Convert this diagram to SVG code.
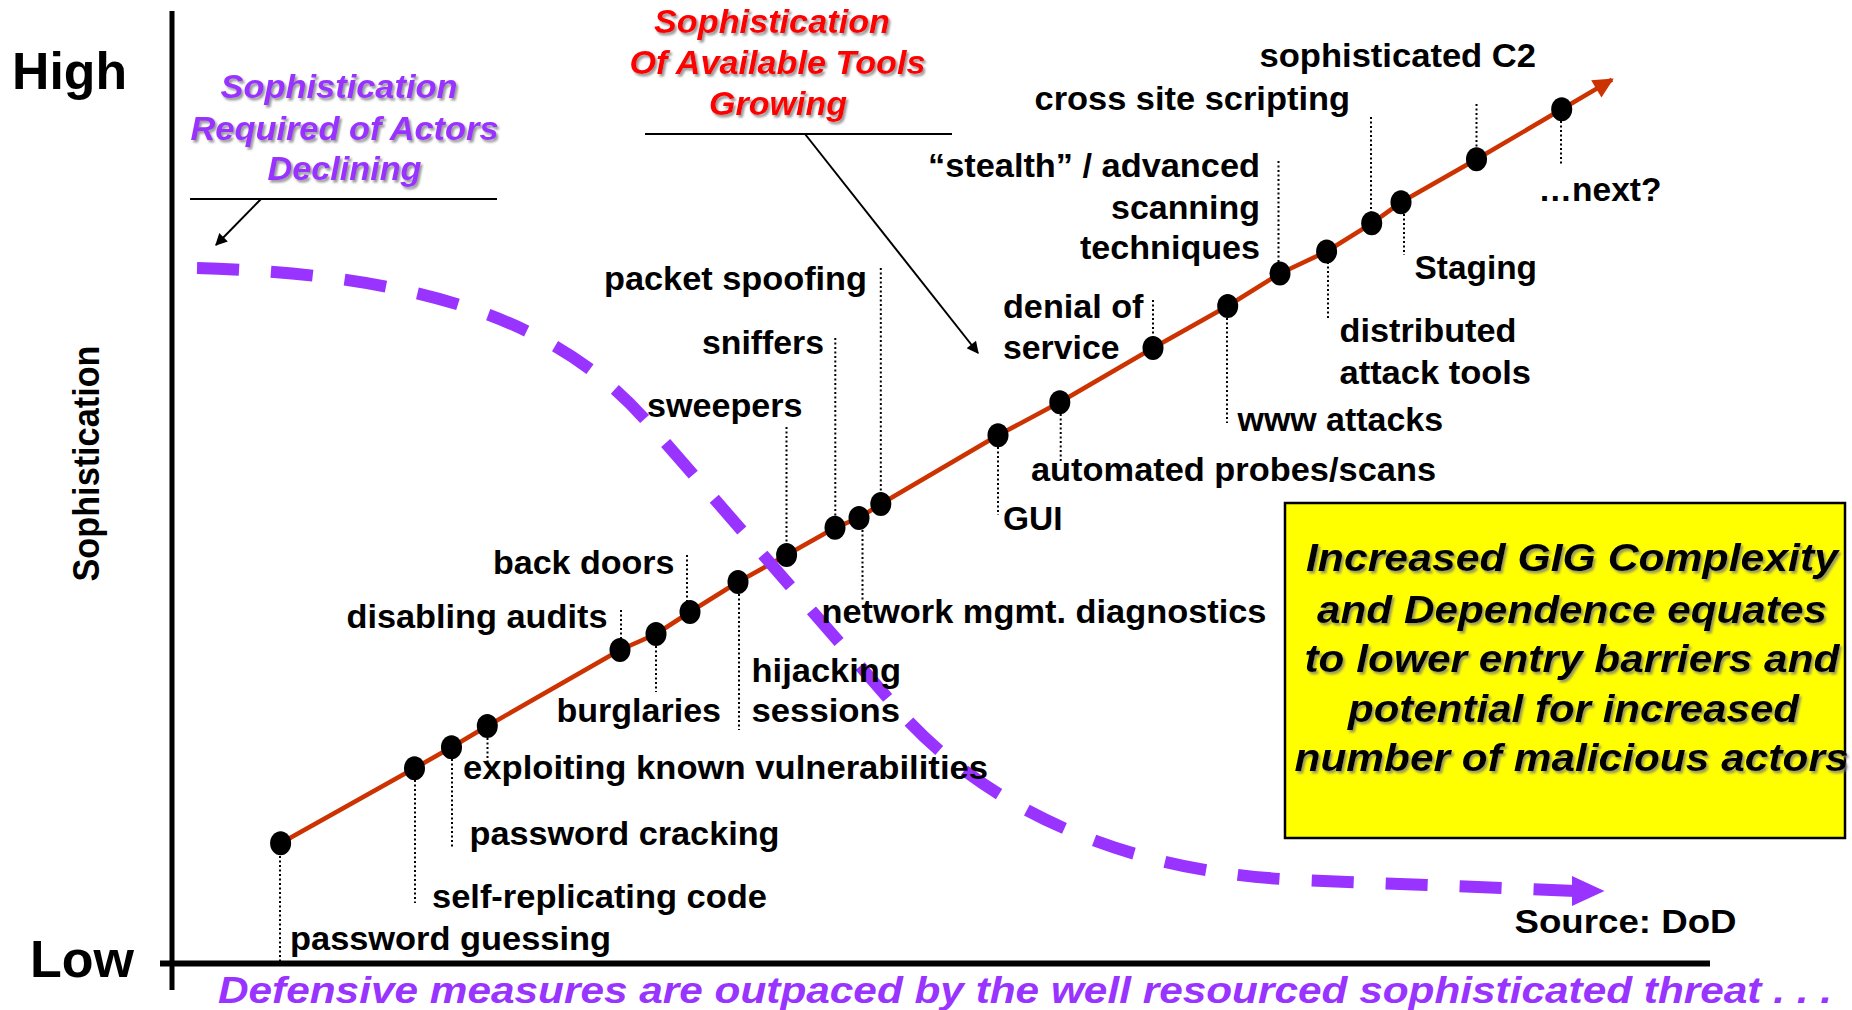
<svg xmlns="http://www.w3.org/2000/svg" width="1852" height="1010" viewBox="0 0 1852 1010">
  <defs>
    <style>
      text { font-family: "Liberation Sans", Arial, Helvetica, sans-serif; font-weight: bold; }
      .lbl { font-size: 34px; fill: #000; }
      .axis-lbl { font-size: 52px; fill: #000; }
      .hdr { font-size: 33px; font-style: italic; filter: url(#shade); }
      .purple { fill: #9933FF; }
      .red { fill: #FF0000; }
      .note { font-size: 39px; font-style: italic; fill: #000; filter: url(#shade); }
      .lead { stroke: #000; stroke-width: 2; stroke-dasharray: 2 2.5; fill: none; }
      .dot { fill: #000; }
      .axis { stroke: #000; fill: none; }
      .pointer { stroke: #000; stroke-width: 2; fill: none; }
      .trend { stroke: #CC3300; stroke-width: 4.5; fill: none; stroke-linejoin: round; }
      .decline { stroke: #9933FF; stroke-width: 12; fill: none; stroke-dasharray: 42 32; }
    </style>
    <filter id="shade" x="-5%" y="-20%" width="110%" height="150%">
      <feDropShadow dx="2" dy="2.5" stdDeviation="1.2" flood-color="#777" flood-opacity="0.75"/>
    </filter>
    <marker id="trendHead" viewBox="0 0 10 10" refX="9" refY="5" markerWidth="5" markerHeight="4.5" markerUnits="strokeWidth" orient="auto">
      <path d="M0,0 L10,5 L0,10 Z" fill="#CC3300"/>
    </marker>
    <marker id="ptrHead" viewBox="0 0 10 10" refX="9" refY="5" markerWidth="8" markerHeight="6" markerUnits="strokeWidth" orient="auto">
      <path d="M0,0 L10,5 L0,10 Z" fill="#000"/>
    </marker>
  </defs>

  <rect width="1852" height="1010" fill="#fff"/>

  <!-- axes -->
  <g id="axes">
    <line class="axis" x1="172" y1="11" x2="172" y2="990" stroke-width="5"/>
    <line class="axis" x1="160" y1="963.5" x2="1710" y2="963.5" stroke-width="6"/>
    <text class="axis-lbl" x="12" y="89" textLength="115" lengthAdjust="spacingAndGlyphs">High</text>
    <text class="axis-lbl" x="30" y="977" textLength="104" lengthAdjust="spacingAndGlyphs">Low</text>
    <text x="0" y="0" font-size="36" transform="translate(98.5,463.5) rotate(-90)" text-anchor="middle" textLength="236" lengthAdjust="spacingAndGlyphs">Sophistication</text>
  </g>

  <!-- connectors: trend line, declining curve, header pointers -->
  <g id="connectors">
    <polyline class="trend" marker-end="url(#trendHead)" points="280.6,843.3 414.5,768.3 451.5,747.3 487.3,726 620,650 656,634 690,612 738,582 786.6,555 835,527.7 859,518 880.8,504 998,435.3 1059.8,402.3 1153,348 1227.7,306 1280,273.5 1326.6,251.5 1371.7,223.3 1401,202.3 1476.5,159.3 1561.7,109.3 1612,79.6"/>
    <path class="decline" d="M197,268 C470,275 580,345 650,425 L900,712 C940,757 1060,870 1300,880 L1576,891"/>
    <polygon points="1572,876 1604.5,891 1572,906" fill="#9933FF"/>
    <line class="pointer" x1="190" y1="199" x2="497" y2="199"/>
    <line class="pointer" x1="261" y1="199" x2="216" y2="245" marker-end="url(#ptrHead)"/>
    <line class="pointer" x1="645" y1="134" x2="952" y2="134"/>
    <line class="pointer" x1="805" y1="134" x2="978" y2="353" marker-end="url(#ptrHead)"/>
  </g>

  <!-- headers -->
  <g id="header-actors">
    <text class="hdr purple" x="339" y="98" text-anchor="middle" textLength="237" lengthAdjust="spacingAndGlyphs">Sophistication</text>
    <text class="hdr purple" x="344.5" y="140" text-anchor="middle" textLength="308" lengthAdjust="spacingAndGlyphs">Required of Actors</text>
    <text class="hdr purple" x="344.5" y="180" text-anchor="middle" textLength="154" lengthAdjust="spacingAndGlyphs">Declining</text>
  </g>
  <g id="header-tools">
    <text class="hdr red" x="772" y="33" text-anchor="middle" textLength="236" lengthAdjust="spacingAndGlyphs">Sophistication</text>
    <text class="hdr red" x="777.5" y="74" text-anchor="middle" textLength="296" lengthAdjust="spacingAndGlyphs">Of Available Tools</text>
    <text class="hdr red" x="778" y="115" text-anchor="middle" textLength="138" lengthAdjust="spacingAndGlyphs">Growing</text>
  </g>

  <!-- events along the trend line -->
  <g id="ev-password-guessing">
    <line class="lead" x1="280" y1="856" x2="280" y2="961"/>
    <ellipse class="dot" cx="280.6" cy="843.3" rx="10.5" ry="12"/>
    <text class="lbl" x="290" y="950" textLength="321" lengthAdjust="spacingAndGlyphs">password guessing</text>
  </g>
  <g id="ev-self-replicating-code">
    <line class="lead" x1="415" y1="780" x2="415" y2="903"/>
    <ellipse class="dot" cx="414.5" cy="768.3" rx="10.5" ry="12"/>
    <text class="lbl" x="432" y="907.5" textLength="335" lengthAdjust="spacingAndGlyphs">self-replicating code</text>
  </g>
  <g id="ev-password-cracking">
    <line class="lead" x1="452" y1="759" x2="452" y2="847"/>
    <ellipse class="dot" cx="451.5" cy="747.3" rx="10.5" ry="12"/>
    <text class="lbl" x="469.5" y="845" textLength="310" lengthAdjust="spacingAndGlyphs">password cracking</text>
  </g>
  <g id="ev-exploiting">
    <line class="lead" x1="487.5" y1="738" x2="487.5" y2="762"/>
    <ellipse class="dot" cx="487.3" cy="726" rx="10.5" ry="12"/>
    <text class="lbl" x="463" y="779" textLength="525" lengthAdjust="spacingAndGlyphs">exploiting known vulnerabilities</text>
  </g>
  <g id="ev-disabling-audits">
    <line class="lead" x1="621" y1="610" x2="621" y2="640"/>
    <ellipse class="dot" cx="620" cy="650" rx="10.5" ry="12"/>
    <text class="lbl" x="346.5" y="628" textLength="261" lengthAdjust="spacingAndGlyphs">disabling audits</text>
  </g>
  <g id="ev-burglaries">
    <line class="lead" x1="656" y1="646" x2="656" y2="692"/>
    <ellipse class="dot" cx="656" cy="634" rx="10.5" ry="12"/>
    <text class="lbl" x="556.5" y="721.5" textLength="164.5" lengthAdjust="spacingAndGlyphs">burglaries</text>
  </g>
  <g id="ev-back-doors">
    <line class="lead" x1="687" y1="555" x2="687" y2="602"/>
    <ellipse class="dot" cx="690" cy="612" rx="10.5" ry="12"/>
    <text class="lbl" x="493" y="573.5" textLength="181.5" lengthAdjust="spacingAndGlyphs">back doors</text>
  </g>
  <g id="ev-hijacking-sessions">
    <line class="lead" x1="739" y1="594" x2="739" y2="730"/>
    <ellipse class="dot" cx="738" cy="582" rx="10.5" ry="12"/>
    <text class="lbl" x="751.5" y="681.5" textLength="149.5" lengthAdjust="spacingAndGlyphs">hijacking</text>
    <text class="lbl" x="751.5" y="721.5" textLength="148.5" lengthAdjust="spacingAndGlyphs">sessions</text>
  </g>
  <g id="ev-sweepers">
    <line class="lead" x1="786.5" y1="427" x2="786.5" y2="545"/>
    <ellipse class="dot" cx="786.6" cy="555" rx="10.5" ry="12"/>
    <text class="lbl" x="647" y="416.5" textLength="155.5" lengthAdjust="spacingAndGlyphs">sweepers</text>
  </g>
  <g id="ev-sniffers">
    <line class="lead" x1="835.3" y1="338" x2="835.3" y2="518"/>
    <ellipse class="dot" cx="835" cy="527.7" rx="10.5" ry="12"/>
    <text class="lbl" x="702" y="354" textLength="122" lengthAdjust="spacingAndGlyphs">sniffers</text>
  </g>
  <g id="ev-network-mgmt">
    <line class="lead" x1="862.5" y1="530" x2="862.5" y2="600"/>
    <ellipse class="dot" cx="859" cy="518" rx="10.5" ry="12"/>
    <text class="lbl" x="821.5" y="622.5" textLength="445" lengthAdjust="spacingAndGlyphs">network mgmt. diagnostics</text>
  </g>
  <g id="ev-packet-spoofing">
    <line class="lead" x1="880.8" y1="268" x2="880.8" y2="494"/>
    <ellipse class="dot" cx="880.8" cy="504" rx="10.5" ry="12"/>
    <text class="lbl" x="604" y="290" textLength="263" lengthAdjust="spacingAndGlyphs">packet spoofing</text>
  </g>
  <g id="ev-gui">
    <line class="lead" x1="998" y1="447" x2="998" y2="515"/>
    <ellipse class="dot" cx="998" cy="435.3" rx="10.5" ry="12"/>
    <text class="lbl" x="1003" y="529.5" textLength="59.5" lengthAdjust="spacingAndGlyphs">GUI</text>
  </g>
  <g id="ev-automated-probes">
    <line class="lead" x1="1060.7" y1="414" x2="1060.7" y2="463"/>
    <ellipse class="dot" cx="1059.8" cy="402.3" rx="10.5" ry="12"/>
    <text class="lbl" x="1031" y="480.5" textLength="405" lengthAdjust="spacingAndGlyphs">automated probes/scans</text>
  </g>
  <g id="ev-denial-of-service">
    <line class="lead" x1="1153" y1="300" x2="1153" y2="338"/>
    <ellipse class="dot" cx="1153" cy="348" rx="10.5" ry="12"/>
    <text class="lbl" x="1003" y="318" textLength="140.5" lengthAdjust="spacingAndGlyphs">denial of</text>
    <text class="lbl" x="1003" y="358.5" textLength="116.5" lengthAdjust="spacingAndGlyphs">service</text>
  </g>
  <g id="ev-www-attacks">
    <line class="lead" x1="1227" y1="318" x2="1227" y2="423"/>
    <ellipse class="dot" cx="1227.7" cy="306" rx="10.5" ry="12"/>
    <text class="lbl" x="1237.5" y="431" textLength="205.5" lengthAdjust="spacingAndGlyphs">www attacks</text>
  </g>
  <g id="ev-stealth-scanning">
    <line class="lead" x1="1278.5" y1="161" x2="1278.5" y2="264"/>
    <ellipse class="dot" cx="1280" cy="273.5" rx="10.5" ry="12"/>
    <text class="lbl" x="1260" y="177" text-anchor="end" textLength="332" lengthAdjust="spacingAndGlyphs">“stealth” / advanced</text>
    <text class="lbl" x="1260" y="218.5" text-anchor="end" textLength="149" lengthAdjust="spacingAndGlyphs">scanning</text>
    <text class="lbl" x="1260" y="258.5" text-anchor="end" textLength="180" lengthAdjust="spacingAndGlyphs">techniques</text>
  </g>
  <g id="ev-distributed-attack-tools">
    <line class="lead" x1="1328" y1="262" x2="1328" y2="320"/>
    <ellipse class="dot" cx="1326.6" cy="251.5" rx="10.5" ry="12"/>
    <text class="lbl" x="1339.5" y="342" textLength="177" lengthAdjust="spacingAndGlyphs">distributed</text>
    <text class="lbl" x="1339.5" y="383.5" textLength="191.5" lengthAdjust="spacingAndGlyphs">attack tools</text>
  </g>
  <g id="ev-cross-site-scripting">
    <line class="lead" x1="1371" y1="117" x2="1371" y2="213"/>
    <ellipse class="dot" cx="1371.7" cy="223.3" rx="10.5" ry="12"/>
    <text class="lbl" x="1034.5" y="109.5" textLength="315.5" lengthAdjust="spacingAndGlyphs">cross site scripting</text>
  </g>
  <g id="ev-staging">
    <line class="lead" x1="1404" y1="214" x2="1404" y2="255"/>
    <ellipse class="dot" cx="1401" cy="202.3" rx="10.5" ry="12"/>
    <text class="lbl" x="1414.5" y="278.5" textLength="122.5" lengthAdjust="spacingAndGlyphs">Staging</text>
  </g>
  <g id="ev-sophisticated-c2">
    <line class="lead" x1="1476.5" y1="104" x2="1476.5" y2="149"/>
    <ellipse class="dot" cx="1476.5" cy="159.3" rx="10.5" ry="12"/>
    <text class="lbl" x="1259.5" y="66.5" textLength="276.5" lengthAdjust="spacingAndGlyphs">sophisticated C2</text>
  </g>
  <g id="ev-next">
    <line class="lead" x1="1561" y1="121" x2="1561" y2="165"/>
    <ellipse class="dot" cx="1561.7" cy="109.3" rx="10.5" ry="12"/>
    <text class="lbl" x="1538.5" y="201" textLength="123" lengthAdjust="spacingAndGlyphs">…next?</text>
  </g>

  <!-- callout box -->
  <g id="callout">
    <rect x="1285" y="503" width="560" height="335" fill="#FFFF00" stroke="#000" stroke-width="2.5"/>
    <text class="note" x="1572" y="571" text-anchor="middle" textLength="532" lengthAdjust="spacingAndGlyphs">Increased GIG Complexity</text>
    <text class="note" x="1572" y="622.5" text-anchor="middle" textLength="510" lengthAdjust="spacingAndGlyphs">and Dependence equates</text>
    <text class="note" x="1572" y="672" text-anchor="middle" textLength="535" lengthAdjust="spacingAndGlyphs">to lower entry barriers and</text>
    <text class="note" x="1573.5" y="722" text-anchor="middle" textLength="451" lengthAdjust="spacingAndGlyphs">potential for increased</text>
    <text class="note" x="1571.5" y="771" text-anchor="middle" textLength="554" lengthAdjust="spacingAndGlyphs">number of malicious actors</text>
  </g>

  <g id="source">
    <text class="lbl" x="1514.5" y="932.5" textLength="222" lengthAdjust="spacingAndGlyphs">Source: DoD</text>
  </g>

  <g id="footer">
    <text x="218" y="1003" font-size="37" font-style="italic" fill="#9933FF" textLength="1614" lengthAdjust="spacingAndGlyphs">Defensive measures are outpaced by the well resourced sophisticated threat . . .</text>
  </g>
</svg>
